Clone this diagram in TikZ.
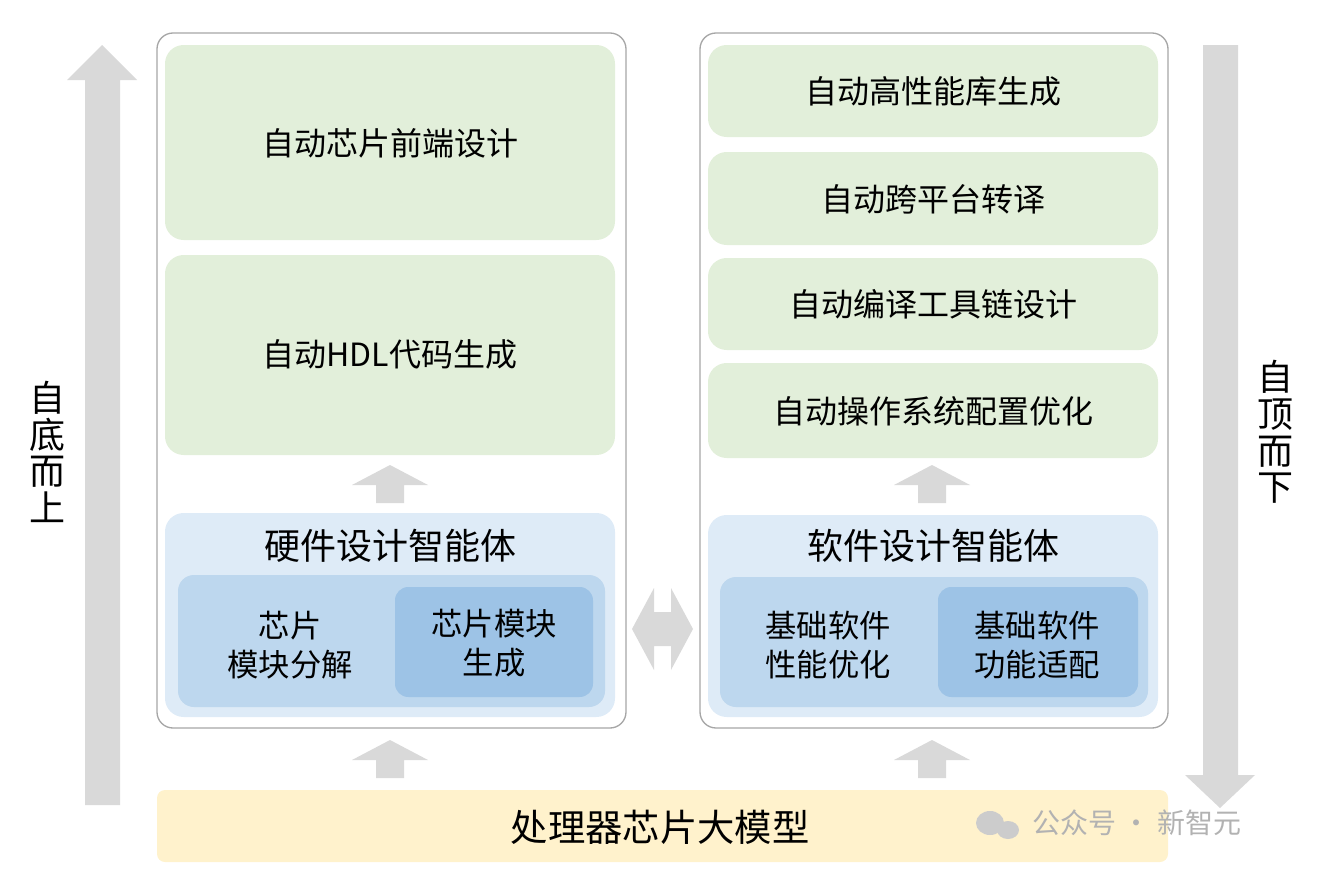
\documentclass[tikz,border=0pt]{standalone}
\usepackage{fontspec}
\setmainfont{Noto Sans CJK SC}
\usetikzlibrary{shapes.arrows}
\definecolor{grn}{HTML}{E2EFDA}
\definecolor{lb}{HTML}{DEEBF7}
\definecolor{mb}{HTML}{BDD7EE}
\definecolor{db}{HTML}{9DC3E6}
\definecolor{yl}{HTML}{FFF2CC}
\definecolor{ar}{HTML}{D9D9D9}
\tikzset{
 panel/.style={draw=gray!70,line width=1pt,rounded corners=12pt},
 gbox/.style={fill=grn,rounded corners=14pt},
 lbox/.style={fill=lb,rounded corners=14pt},
 mbox/.style={fill=mb,rounded corners=12pt},
 dbox/.style={fill=db,rounded corners=10pt},
 gtxt/.style={font=\fontsize{24}{28}\selectfont},
 ttxt/.style={font=\fontsize{27}{32}\selectfont},
 stxt/.style={font=\fontsize{23.5}{29}\selectfont,align=center},
 vtxt/.style={font=\fontsize{27}{27.5}\selectfont,align=center},
 arw/.style={fill=ar,draw=none}
}
\begin{document}
\begin{tikzpicture}[x=0.75pt,y=-0.75pt]
\useasboundingbox (0,0) rectangle (1329,885);
% big side arrows
\fill[ar] (85,805) -- (85,80) -- (67,80) -- (102,45) -- (137,80) -- (120,80) -- (120,805) -- cycle;
\fill[ar] (1203,45) -- (1238,45) -- (1238,775) -- (1255,775) -- (1220,808) -- (1185,775) -- (1203,775) -- cycle;
\node[vtxt] (lt) at (48,452) {自\\底\\而\\上};
\node[vtxt] (rt) at (1275,432) {自\\顶\\而\\下};
% panels
\draw[panel] (157,33) rectangle (626,728);
\draw[panel] (700,33) rectangle (1168,728);
% left
\fill[gbox] (165,45) rectangle (615,240);
\node[gtxt] (a1) at (390,143) {自动芯片前端设计};
\fill[gbox] (165,255) rectangle (615,455);
\node[gtxt] (a2) at (390,354) {自动HDL代码生成};
\fill[lbox] (165,513) rectangle (615,717);
\node[ttxt] (ht) at (390,546) {硬件设计智能体};
\fill[mbox] (178,575) rectangle (605,707);
\fill[dbox] (395,587) rectangle (593,697);
\node[stxt] (h1) at (290,645) {芯片\\模块分解};
\node[stxt] (h2) at (494,643) {芯片模块\\生成};
% right
\fill[gbox] (708,45) rectangle (1158,137);
\node[gtxt] (b1) at (933,91) {自动高性能库生成};
\fill[gbox] (708,152) rectangle (1158,245);
\node[gtxt] (b2) at (933,199) {自动跨平台转译};
\fill[gbox] (708,258) rectangle (1158,350);
\node[gtxt] (b3) at (933,304) {自动编译工具链设计};
\fill[gbox] (708,363) rectangle (1158,458);
\node[gtxt] (b4) at (933,411) {自动操作系统配置优化};
\fill[lbox] (708,515) rectangle (1158,717);
\node[ttxt] (st) at (933,546) {软件设计智能体};
\fill[mbox] (720,577) rectangle (1148,707);
\fill[dbox] (938,587) rectangle (1138,697);
\node[stxt] (s1) at (828,645) {基础软件\\性能优化};
\node[stxt] (s2) at (1037,645) {基础软件\\功能适配};
% small up arrows
\foreach \cx/\ty in {390/465,932/465,390/740,932/740}{
 \fill[ar] (\cx-14,\ty+38) -- (\cx-14,\ty+20) -- (\cx-38,\ty+20) -- (\cx,\ty) -- (\cx+38,\ty+20) -- (\cx+14,\ty+20) -- (\cx+14,\ty+38) -- cycle;
}
% double arrow
\fill[ar] (632,629) -- (654,588) -- (654,612) -- (671,612) -- (671,588) -- (693,629) -- (671,670) -- (671,646) -- (654,646) -- (654,670) -- cycle;
% bottom bar
\fill[yl,rounded corners=6pt] (157,790) rectangle (1168,862);
\node[font=\fontsize{28}{32}\selectfont] (base) at (660,827) {处理器芯片大模型};
\node[font=\fontsize{21}{24}\selectfont,text=gray!60,anchor=west] (wm) at (1028,823) {公众号 · 新智元};
\fill[gray!40] (990,823) ellipse (14 and 12);
\fill[gray!40] (1008,830) ellipse (11 and 9);
\end{tikzpicture}
\end{document}
